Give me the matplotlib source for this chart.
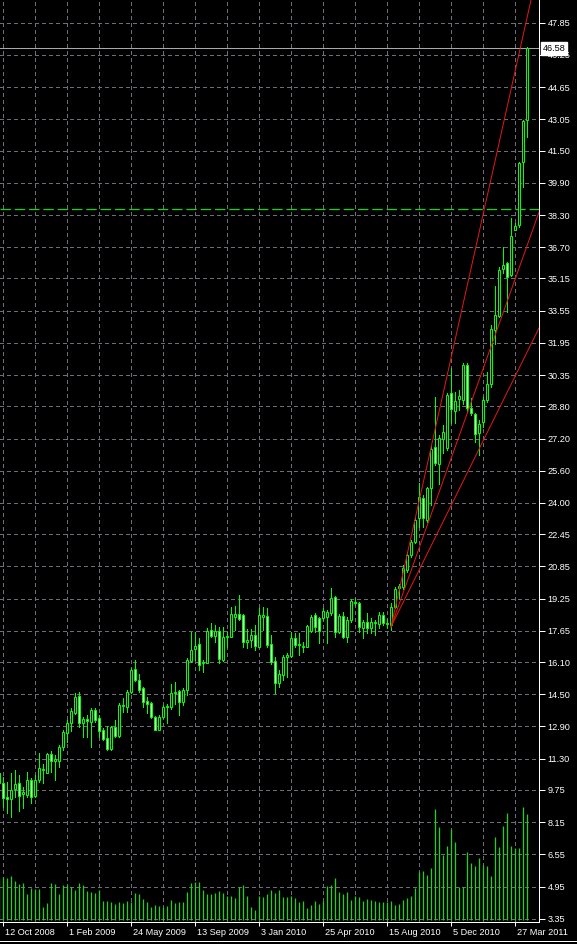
import matplotlib
matplotlib.use('Agg')
import matplotlib.pyplot as plt
import matplotlib.transforms as mtransforms
from matplotlib.lines import Line2D
import numpy as np
import pandas as pd

# weekly bars, first bar = week of 5 Oct 2008
start_date = '2008-10-05'

opens = [10.60, 10.10, 9.40, 9.28, 9.81, 10.07, 9.57, 9.49, 10.24, 9.44,
         10.24, 10.73, 10.60, 11.53, 11.20, 11.20, 11.89, 12.59, 13.05, 13.58,
         14.41, 13.08, 13.25, 13.13, 13.71, 13.30, 12.72, 12.31, 11.76, 12.85,
         12.42, 13.91, 13.88, 14.63, 15.74, 15.20, 14.79, 14.18, 14.08, 13.38,
         12.75, 13.35, 13.85, 13.88, 14.54, 14.66, 14.13, 14.71, 16.16, 16.73,
         16.99, 16.06, 16.06, 17.69, 17.39, 17.65, 16.20, 17.36, 17.36, 18.32,
         18.48, 18.43, 17.11, 17.22, 17.42, 16.86, 18.35, 18.38, 16.99, 16.17,
         15.04, 15.45, 16.33, 16.40, 17.28, 16.99, 16.86, 16.86, 17.66, 18.43,
         18.27, 18.27, 18.35, 18.52, 19.31, 17.61, 18.39, 17.36, 18.19, 19.10,
         19.05, 17.77, 18.10, 17.77, 18.02, 17.97, 18.43, 17.98, 17.93, 18.84,
         19.80, 19.84, 20.66, 21.41, 22.07, 23.23, 24.23, 23.15, 24.72, 26.79,
         25.96, 27.20, 26.71, 29.44, 28.58, 29.14, 29.11, 30.85, 28.70, 28.41,
         27.49, 28.03, 29.11, 29.90, 32.58, 33.28, 35.60, 35.90, 35.32, 37.58,
         37.80, 40.95, 43.02]
highs = [11.10, 10.40, 10.15, 10.57, 10.73, 10.49, 9.91, 10.65, 10.32, 10.49,
         11.56, 11.03, 11.56, 11.70, 11.48, 11.98, 12.72, 13.22, 13.80, 14.57,
         14.62, 13.38, 13.47, 13.80, 13.80, 13.47, 12.80, 12.92, 12.92, 13.22,
         14.08, 14.29, 14.71, 15.78, 16.20, 15.50, 14.87, 14.37, 14.13, 13.41,
         13.46, 13.96, 14.04, 15.00, 15.12, 14.71, 14.79, 16.28, 17.60, 17.60,
         17.27, 16.20, 17.77, 18.05, 17.93, 17.85, 17.85, 17.60, 18.81, 18.88,
         19.42, 18.51, 17.72, 17.72, 17.93, 18.76, 18.81, 18.76, 17.44, 16.33,
         15.70, 16.45, 16.53, 17.61, 17.52, 17.52, 17.11, 17.94, 18.43, 18.52,
         18.35, 18.77, 18.68, 19.76, 19.38, 18.48, 18.60, 18.35, 19.21, 19.26,
         19.10, 18.19, 18.52, 18.27, 18.19, 18.60, 18.60, 18.26, 19.01, 19.84,
         20.00, 20.91, 21.57, 22.15, 23.31, 24.97, 24.39, 24.80, 26.87, 29.27,
         27.37, 27.87, 29.44, 30.68, 29.52, 29.61, 30.93, 30.93, 29.19, 28.48,
         28.12, 29.27, 30.52, 32.83, 34.77, 35.73, 36.69, 35.98, 38.13, 37.90,
         40.95, 43.02, 46.66]
lows = [9.40, 8.91, 8.58, 8.38, 9.41, 8.72, 8.83, 9.41, 9.08, 9.41,
        10.16, 10.07, 10.57, 10.65, 10.24, 10.87, 11.73, 12.14, 12.69, 13.52,
        12.85, 12.39, 12.39, 11.86, 13.13, 12.39, 12.23, 11.73, 11.73, 12.39,
        12.39, 13.63, 13.63, 14.54, 15.17, 14.62, 13.88, 13.55, 13.30, 12.72,
        12.72, 13.30, 13.08, 13.79, 14.01, 13.46, 13.96, 14.46, 16.11, 16.20,
        15.70, 15.62, 16.03, 17.36, 17.11, 16.03, 16.16, 16.86, 17.36, 17.69,
        18.18, 16.83, 16.78, 16.86, 16.69, 16.83, 17.69, 16.86, 16.00, 14.58,
        14.87, 15.21, 15.37, 16.36, 16.83, 16.45, 16.61, 16.83, 17.61, 17.61,
        17.03, 18.19, 17.03, 18.43, 17.36, 17.56, 17.28, 17.11, 18.10, 18.93,
        17.61, 17.28, 17.52, 17.52, 17.44, 17.77, 17.94, 17.77, 17.68, 18.80,
        19.26, 19.75, 20.58, 21.33, 21.99, 22.82, 22.82, 23.07, 23.89, 25.88,
        24.94, 26.46, 26.63, 27.95, 27.95, 28.61, 28.94, 28.53, 28.36, 27.04,
        26.38, 27.78, 29.02, 29.77, 31.90, 33.25, 35.40, 33.50, 35.27, 37.55,
        37.72, 39.70, 42.19]
closes = [10.10, 9.33, 9.30, 9.77, 10.04, 9.44, 9.66, 10.24, 9.41, 10.24,
          10.82, 10.80, 11.53, 11.20, 11.27, 11.89, 12.62, 13.05, 13.68, 14.34,
          13.05, 13.28, 13.18, 13.71, 13.22, 12.69, 12.26, 11.76, 12.85, 12.42,
          13.96, 13.96, 14.63, 15.70, 15.21, 14.71, 14.13, 14.04, 13.38, 12.75,
          13.35, 13.88, 13.91, 14.54, 14.62, 14.13, 14.71, 16.20, 16.69, 16.92,
          15.95, 16.11, 17.65, 17.39, 17.65, 16.23, 17.32, 17.39, 18.48, 18.48,
          18.22, 17.11, 17.22, 17.42, 16.89, 18.43, 18.43, 16.94, 16.12, 15.04,
          15.50, 16.33, 16.43, 17.28, 16.94, 16.94, 16.91, 17.89, 18.35, 17.85,
          17.66, 18.65, 18.60, 19.26, 17.61, 18.39, 17.36, 18.19, 19.15, 19.05,
          17.82, 18.10, 17.77, 18.07, 18.07, 18.43, 18.02, 18.05, 18.84, 19.75,
          19.87, 20.75, 21.41, 22.07, 23.15, 24.31, 23.23, 24.72, 26.66, 26.00,
          27.25, 27.54, 29.36, 28.65, 29.08, 29.31, 30.85, 28.70, 28.48, 27.45,
          27.92, 29.11, 29.90, 32.62, 33.33, 35.56, 35.81, 35.23, 37.25, 37.78,
          40.90, 42.97, 46.58]
volumes = [5000, 5120, 5000, 5280, 4680, 4280, 4440, 3120, 3840, 3720,
           3720, 1560, 2040, 4440, 4320, 3120, 4200, 4200, 3960, 3600,
           4440, 4200, 3480, 3360, 3240, 3600, 2280, 2280, 2160, 1920,
           2160, 2040, 2280, 2160, 3240, 3120, 2520, 2160, 1560, 1800,
           1680, 1560, 1680, 2400, 2040, 2160, 2160, 3360, 4440, 4560,
           4560, 3600, 3120, 3120, 3240, 3480, 3240, 2880, 2880, 2640,
           3920, 4200, 2880, 1560, 1200, 2880, 2760, 3120, 3600, 3240,
           3600, 2760, 2760, 2880, 2640, 2160, 2280, 1440, 1800, 2280,
           1920, 2280, 4080, 4200, 5040, 3360, 3120, 3360, 2400, 2880,
           2760, 2280, 2520, 2400, 2280, 2160, 2160, 2160, 2280, 1800,
           1920, 2400, 2640, 2880, 3840, 5760, 5880, 5400, 6240, 13320,
           11160, 7800, 8880, 10920, 9360, 3960, 3960, 8160, 6840, 6480,
           7440, 6600, 6480, 5280, 9960, 8760, 11280, 12840, 8880, 8640,
           8640, 13560, 12720]

price_ticks = [47.85, 46.25, 44.65, 43.05, 41.50, 39.90, 38.30, 36.70, 35.15,
               33.55, 31.95, 30.35, 28.80, 27.20, 25.60, 24.00, 22.45, 20.85,
               19.25, 17.65, 16.10, 14.50, 12.90, 11.30, 9.75, 8.15, 6.55,
               4.95, 3.35]
last_price = 46.58
level_price = 38.60

# fan lines: common origin (bar, price) and a second point for each line
fan_origin = (98, 17.85)
fan_points = [(133, 48.98), (135, 38.44), (135, 32.69)]

plt.rcParams['font.family'] = ['Liberation Sans', 'DejaVu Sans']
plt.rcParams['font.size'] = 6.6

W, H = 577, 944
fig = plt.figure(figsize=(W / 100, H / 100), dpi=100, facecolor='black')
ax = fig.add_axes([0, 22 / H, 539 / W, 922 / H])
ax.set_facecolor('black')

n = len(closes)
idx = np.arange(n)
dates = pd.date_range(start_date, periods=n, freq='7D')

o = np.array(opens); c = np.array(closes)
hi = np.array(highs); lo = np.array(lows)
up = c >= o
px = 72 / 100  # one pixel in points

# grid
grid_col = '#6e6e78'
for g in np.arange(1, 136, 8):
    ax.axvline(g, color=grid_col, lw=px, ls=(0, (3, 3)), zorder=0, antialiased=False)
for g in price_ticks:
    ax.axhline(g, color=grid_col, lw=px, ls=(0, (3, 3)), zorder=0, antialiased=False)

# candles
ax.vlines(idx, lo, hi, color='#00ff00', lw=px, zorder=2, antialiased=False)
body_lo = np.minimum(o, c)
body_h = np.maximum(np.abs(c - o), 0.02)
ax.bar(idx[up], body_h[up], bottom=body_lo[up], width=0.5,
       color='black', edgecolor='#00ff00', linewidth=px, zorder=3)
ax.bar(idx[~up], body_h[~up], bottom=body_lo[~up], width=0.5,
       color='#c8ffc8', edgecolor='#00ff00', linewidth=px, zorder=3)

# horizontal lines
ax.axhline(last_price, color='#a8a8a8', lw=px, zorder=1, antialiased=False)
ax.axhline(level_price, color='#20d020', lw=1.3 * px, ls=(0, (8, 3)), zorder=1)

# fan lines
for bx, bp in fan_points:
    slope = (bp - fan_origin[1]) / (bx - fan_origin[0])
    xs = np.array([fan_origin[0], fan_origin[0] + 60])
    ax.plot(xs, fan_origin[1] + slope * (xs - fan_origin[0]),
            color='#e01818', lw=px, zorder=4)

ax.set_xlim(0.25, 135)
ax.set_ylim(3.19, 48.98)

# volume on its own scale, bars rising from the bottom
axv = ax.twinx()
axv.vlines(idx, 0, volumes, color='#22d022', lw=1.3 * px)
axv.set_ylim(-240, max(volumes) * 8.15)
axv.set_yticks([])
axv.patch.set_visible(False)
for s in axv.spines.values():
    s.set_visible(False)

# axes styling
for side in ['top', 'left']:
    ax.spines[side].set_visible(False)
ax.spines['right'].set_color('white')
ax.spines['bottom'].set_color('white')
ax.spines['right'].set_linewidth(px)
ax.spines['bottom'].set_linewidth(px)

ax.yaxis.tick_right()
ax.set_yticks(price_ticks)
ax.set_yticklabels(['%.2f' % v for v in price_ticks])
ax.tick_params(axis='y', colors='white', length=4, width=px, pad=2)

tick_idx = list(range(1, n, 16))
ax.set_xticks(tick_idx)
ax.set_xticklabels([f'{dates[i].day} {dates[i]:%b %Y}' for i in tick_idx], ha='left')
ax.tick_params(axis='x', colors='white', length=3, width=px, pad=1.5)
shift = mtransforms.ScaledTranslation(1.5 / 72, 0, fig.dpi_scale_trans)
for lab in ax.get_xticklabels():
    lab.set_transform(lab.get_transform() + shift)

# last price box
ax.annotate('%.2f' % last_price, xy=(1, last_price),
            xycoords=('axes fraction', 'data'), xytext=(2.5, 0),
            textcoords='offset points', ha='left', va='center', color='black',
            bbox=dict(boxstyle='square,pad=0.2', fc='white', ec='white'),
            zorder=10, annotation_clip=False)

# window edge at the bottom
fig.add_artist(Line2D([0, 1], [3.5 / H, 3.5 / H], color='white', lw=px,
                      transform=fig.transFigure))

fig.savefig('out.png', dpi=100, facecolor='black')
